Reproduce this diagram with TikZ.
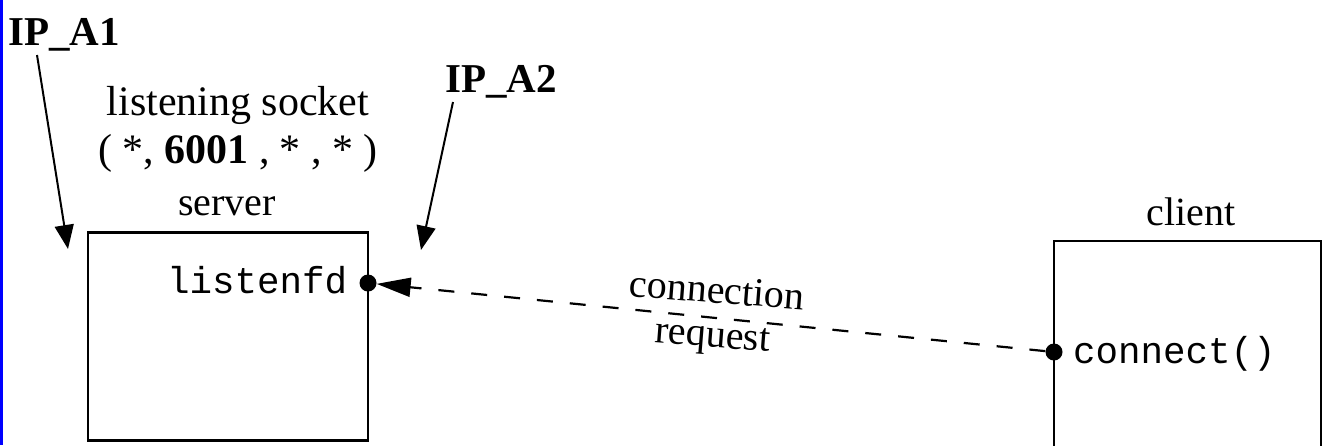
\documentclass[tikz,border=0pt]{standalone}
\usepackage{fontspec}
\setmainfont{Liberation Serif}
\setmonofont{Liberation Mono}
\usetikzlibrary{arrows.meta}
\begin{document}
\begin{tikzpicture}[x=1pt,y=-1pt,
  lbl/.style={inner sep=0pt,font=\fontsize{40}{46}\selectfont},
  big/.style={inner sep=0pt,font=\fontsize{42}{48}\selectfont},
  ipl/.style={inner sep=0pt,font=\fontsize{41}{47}\selectfont\bfseries},
  mono/.style={inner sep=0pt,font=\fontsize{37.5}{42}\selectfont\ttfamily},
  box/.style={draw,line width=2.5pt},
  ptr/.style={line width=2pt,-{Triangle[length=24pt,width=19pt]}},
  conn/.style={line width=2.2pt,dash pattern=on 16pt off 17pt,-{Triangle[length=34pt,width=19pt]}},
  dotn/.style={circle,fill,inner sep=0pt,minimum size=17pt}]
\useasboundingbox (0,0) rectangle (1332,445);
\fill[white] (0,0) rectangle (1332,445);
\draw[blue,line width=2.5pt] (1.25,0) -- (1.25,445);
% labels
\node[ipl,anchor=base] (ipa1) at (64,45) {IP\_A1};
\node[ipl,anchor=base] (ipa2) at (501,92) {IP\_A2};
\node[big,anchor=base] (ls) at (238,115) {listening socket};
\node[big,anchor=base] (tup) at (238,163) {( *, \textbf{6001} , * , * )};
\node[lbl,anchor=base] (srvl) at (227,215) {server};
\node[lbl,anchor=base] (clil) at (1191,225) {client};
% boxes
\node[box,minimum width=280pt,minimum height=208pt,inner sep=0pt] (server) at (228,336.5) {};
\coordinate (cbl) at (1054,470);
\coordinate (ctl) at (1054,241);
\coordinate (ctr) at (1321,241);
\coordinate (cbr) at (1321,470);
\draw[line width=2.5pt] (cbl) -- (ctl) -- (ctr) -- (cbr);
% mono labels
\node[mono,anchor=base west] (lfd) at (167,293) {listenfd};
\node[mono,anchor=base west] (cn) at (1073,363) {connect()};
% dots
\node[dotn] (sd) at (368,283) {};
\node[dotn] (cd) at (1054,352) {};
% connection
\draw[conn] (cd) -- (sd);
\node[lbl,rotate=-4.5,anchor=base] (cl1) at (716,303) {connection};
\node[lbl,rotate=-4.5,anchor=base] (cl2) at (712,347) {request};
% IP arrows
\coordinate (a1s) at (37,55);
\coordinate (a1e) at (68,249);
\coordinate (a2s) at (453,102);
\coordinate (a2e) at (421,250);
\draw[ptr] (a1s) -- (a1e);
\draw[ptr] (a2s) -- (a2e);
\end{tikzpicture}
\end{document}
